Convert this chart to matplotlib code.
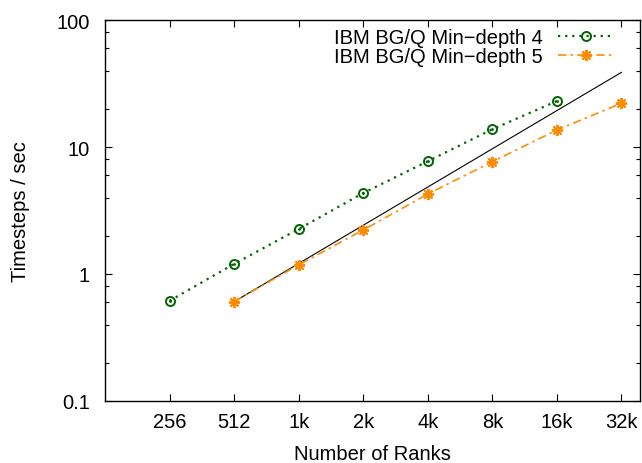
import matplotlib
matplotlib.use("Agg")
import matplotlib.pyplot as plt
from matplotlib.ticker import FixedLocator, NullLocator, FixedFormatter

plt.rcParams['font.family'] = ['Liberation Sans', 'DejaVu Sans']

# data
ranks = [256, 512, 1024, 2048, 4096, 8192, 16384, 32768]
rank_labels = ['256', '512', '1k', '2k', '4k', '8k', '16k', '32k']

depth4_x = [256, 512, 1024, 2048, 4096, 8192, 16384]
depth4_y = [0.615, 1.20, 2.26, 4.34, 7.72, 13.8, 23.0]

depth5_x = [512, 1024, 2048, 4096, 8192, 16384, 32768]
depth5_y = [0.605, 1.18, 2.22, 4.26, 7.66, 13.6, 22.1]

# ideal scaling reference line
ideal_x = [512, 32768]
ideal_y = [0.605, 38.7]

green = '#006400'
orange = '#ff8c00'
fs = 14.5

fig = plt.figure(figsize=(6.42, 4.64), dpi=100)
ax = fig.add_axes([105/642, 1 - 402/464, 535/642, 381/464])

ax.plot(ideal_x, ideal_y, color='black', lw=0.8)

ax.plot(depth4_x, depth4_y, color=green, lw=1.6, ls=(0, (1, 2.2)),
        marker='o', ms=6.5, mfc='none', mec=green, mew=1.4,
        label='IBM BG/Q Min\u2212depth 4')
ax.plot(depth4_x, depth4_y, color=green, lw=0, marker='.', ms=2)

ax.plot(depth5_x, depth5_y, color=orange, lw=1.2, ls=(0, (5, 2.5, 1.5, 2.5)),
        marker=(8, 2, 0), ms=8, mec=orange, mew=1.4,
        label='IBM BG/Q Min\u2212depth 5')

ax.set_xscale('log', base=2)
ax.set_yscale('log')
ax.set_xlim(128, 40000)
ax.set_ylim(0.1, 100)

ax.xaxis.set_major_locator(FixedLocator(ranks))
ax.xaxis.set_major_formatter(FixedFormatter(rank_labels))
ax.xaxis.set_minor_locator(NullLocator())

ax.yaxis.set_major_locator(FixedLocator([0.1, 1, 10, 100]))
ax.yaxis.set_major_formatter(FixedFormatter(['0.1', '1', '10', '100']))
minor = [m * d for d in [0.1, 1, 10] for m in [2, 4, 6, 8]]
ax.yaxis.set_minor_locator(FixedLocator(minor))

ax.tick_params(which='both', direction='in', top=True, right=True,
               labelsize=fs, width=0.8)
ax.tick_params(which='major', length=5)
ax.tick_params(which='minor', length=3)
ax.tick_params(axis='x', pad=8)
ax.tick_params(axis='y', pad=11)
for s in ax.spines.values():
    s.set_linewidth(1.0)

ax.set_xlabel('Number of Ranks', fontsize=fs)
ax.set_ylabel('Timesteps / sec', fontsize=fs)
ax.xaxis.set_label_coords(0.5, -(445 - 402) / 381)
ax.yaxis.set_label_coords((30 - 105) / 535, 0.5)

ax.legend(loc='upper right', bbox_to_anchor=(615/642, 1 - 29/464),
          bbox_transform=fig.transFigure, frameon=False, fontsize=fs,
          markerfirst=False, handlelength=2.85, handletextpad=0.75,
          labelspacing=0.0, borderpad=0, borderaxespad=0)

plt.savefig('out.png', dpi=100)
